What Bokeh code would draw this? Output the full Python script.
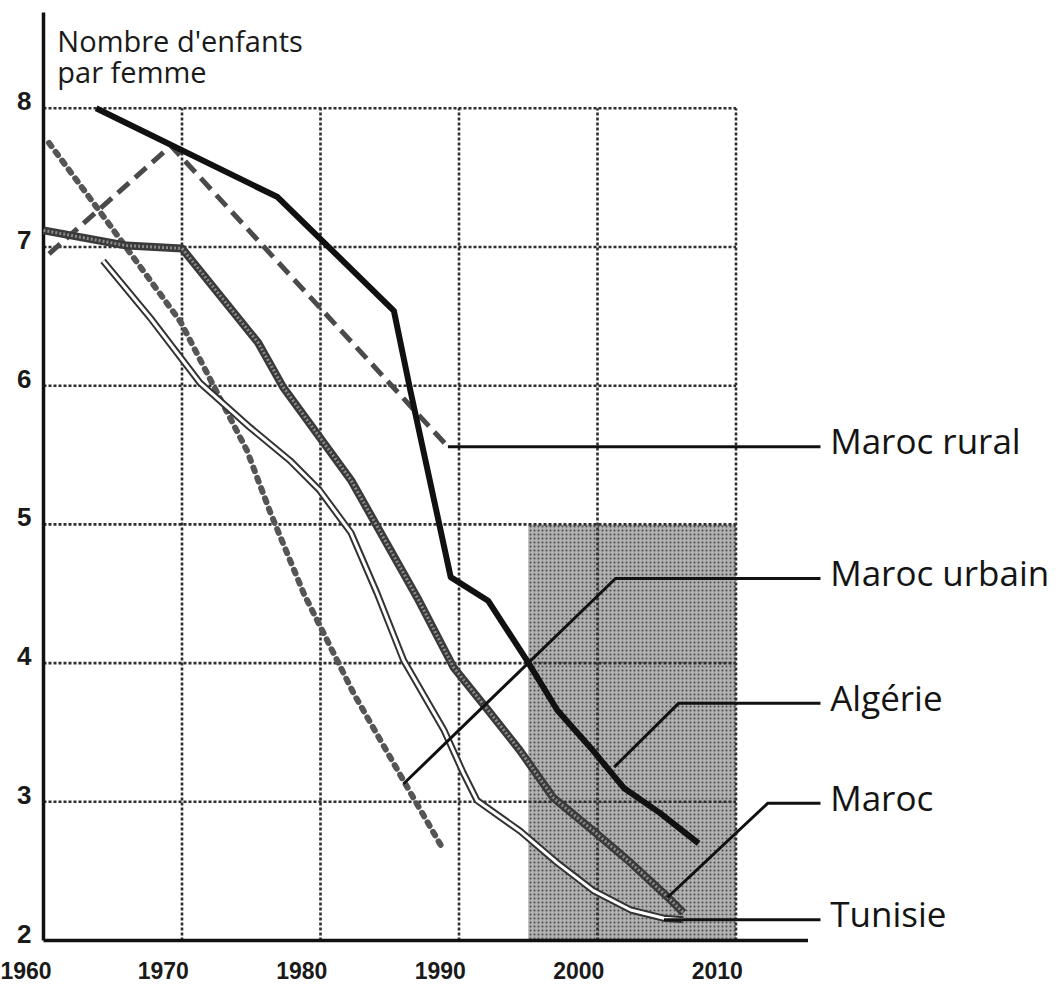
from bokeh.plotting import figure
from bokeh.models import Range1d, LinearAxis, FixedTicker
from bokeh.embed import file_html
from bokeh.resources import INLINE
from bokeh.core.properties import value

# ---------------- data ----------------
x_ticks = [1960, 1970, 1980, 1990, 2000, 2010]
y_ticks = [2, 3, 4, 5, 6, 7, 8]
y_tick_labels = [str(v) for v in y_ticks]
y_title = "Nombre d'enfants\npar femme"

series_names = ["Maroc rural", "Maroc urbain", "Algérie", "Maroc", "Tunisie"]

algerie_years = [1963.8, 1976.9, 1985.3, 1986.5, 1989.4, 1992.1, 1994.9, 1997.1, 1999.5, 2001.9, 2004.5, 2007.3]
algerie_vals = [8.0, 7.36, 6.54, 5.96, 4.62, 4.45, 4.02, 3.66, 3.39, 3.10, 2.92, 2.70]

rural_years = [1960.4, 1969.2, 1989.2]
rural_vals = [6.95, 7.73, 5.56]

urbain_years = [1960.4, 1964.7, 1969.9, 1974.7, 1976.4, 1978.8, 1982.4, 1986.7, 1988.9]
urbain_vals = [7.75, 7.17, 6.46, 5.53, 5.08, 4.50, 3.78, 3.03, 2.65]

maroc_years = [1960, 1966, 1970, 1975.5, 1977.3, 1982.2, 1987.0, 1989.6, 1992.1, 1994.4,
               1996.8, 1999.7, 2002.4, 2005.1, 2006.2]
maroc_vals = [7.12, 7.01, 6.99, 6.31, 5.99, 5.32, 4.47, 3.97, 3.66, 3.37,
              3.03, 2.79, 2.56, 2.31, 2.20]

tunisie_years = [1964.3, 1967.7, 1971.3, 1974.9, 1977.8, 1979.9, 1982.2, 1984.1, 1986.0,
                 1988.9, 1990.3, 1991.3, 1994.4, 1997.1, 1999.7, 2002.4, 2004.8, 2006.2]
tunisie_vals = [6.90, 6.49, 6.02, 5.70, 5.46, 5.25, 4.94, 4.50, 4.02,
                3.52, 3.21, 3.01, 2.79, 2.56, 2.36, 2.22, 2.16, 2.15]

period_start, period_end, period_top = 1995, 2010, 5

# ---------------- layout of annotations ----------------
axis_top = 8.69          # top of the drawn vertical axis
axis_right = 2015.2      # right end of the drawn horizontal axis
leader_end = 2016.1
label_x = 2016.8
leaders_x = [
    [rural_years[-1], leader_end],
    [1986.0, 2001.3, leader_end],
    [2001.2, 2005.85, leader_end],
    [2005.05, 2012.3, leader_end],
    [2004.8, leader_end],
]
leaders_y = [
    [rural_vals[-1], rural_vals[-1]],
    [3.13, 4.61, 4.61],
    [3.25, 3.71, 3.71],
    [2.31, 2.99, 2.99],
    [2.15, 2.15],
]
label_y = [ly[-1] for ly in leaders_y]

# ---------------- figure ----------------
PXX = 13.85   # px per year
PXY = 138.7   # px per unit
W, H = 1059, 998
fw = W
x0 = 1960 - 43 / PXX
x1 = x0 + fw / PXX
fh = 948
y1 = 2 + 940 / PXY
y0 = y1 - fh / PXY

p = figure(frame_width=fw, frame_height=fh,
           min_border_left=0, min_border_right=0, min_border_top=0, min_border_bottom=H - fh,
           x_range=Range1d(x0, x1), y_range=Range1d(y0, y1),
           x_axis_location=None, y_axis_location=None,
           toolbar_location=None, output_backend="svg",
           outline_line_color=None, background_fill_color="white",
           border_fill_color="white")
p.grid.visible = False

# x tick labels (the original sets them just left of each grid line)
shift_x = 1.35
p.extra_x_ranges = {"lab": Range1d(x0 + shift_x, x1 + shift_x)}
xa = LinearAxis(x_range_name="lab", ticker=FixedTicker(ticks=x_ticks))
xa.axis_line_color = None
xa.major_tick_line_color = None
xa.minor_tick_line_color = None
xa.major_tick_in = 0
xa.major_tick_out = 0
xa.major_label_text_font = "Liberation Sans"
xa.major_label_text_font_style = "bold"
xa.major_label_text_font_size = "23px"
xa.major_label_text_color = "#1a1a1a"
xa.major_label_standoff = 13
p.add_layout(xa, "below")

# shaded period
p.quad(left=[period_start], right=[period_end], bottom=[y_ticks[0]], top=[period_top],
       fill_color="#b0b0b0", line_color=None,
       hatch_pattern="dot", hatch_color="#4a4a4a", hatch_scale=4, hatch_weight=1.6)

# dotted grid
grid_color = "#2e2e2e"
vx = x_ticks[1:]
p.segment(x0=vx, y0=[y_ticks[0]] * len(vx), x1=vx, y1=[y_ticks[-1]] * len(vx),
          line_color=grid_color, line_width=2.6, line_dash="3 2")
hy = y_ticks[1:]
p.segment(x0=[x_ticks[0]] * len(hy), y0=hy, x1=[x_ticks[-1]] * len(hy), y1=hy,
          line_color=grid_color, line_width=2.6, line_dash="3 2")

# axes lines
p.segment(x0=[x_ticks[0]], y0=[y_ticks[0]], x1=[x_ticks[0]], y1=[axis_top],
          line_color="#111111", line_width=3.5)
p.segment(x0=[x_ticks[0]], y0=[y_ticks[0]], x1=[axis_right], y1=[y_ticks[0]],
          line_color="#111111", line_width=3.5)

# y tick labels
p.text(x=[x_ticks[0]] * len(y_ticks), y=y_ticks, text=y_tick_labels,
       text_font=value("Liberation Sans"), text_font_style="bold", text_font_size="26px",
       text_color="#1a1a1a", text_align="right", text_baseline="middle",
       x_offset=-12, y_offset=-7)

# series
p.line(urbain_years, urbain_vals, line_color="#555555", line_width=6, line_dash="4 7",
       line_cap="round")
p.line(rural_years, rural_vals, line_color="#4a4a4a", line_width=5, line_dash="15 8")
p.line(maroc_years, maroc_vals, line_color="#3a3a3a", line_width=8, line_join="round")
p.line(maroc_years, maroc_vals, line_color="#8a8a8a", line_width=3, line_dash="2 2",
       line_join="round")
p.line(tunisie_years, tunisie_vals, line_color="#333333", line_width=7, line_join="round")
p.line(tunisie_years, tunisie_vals, line_color="white", line_width=3, line_join="round")
p.line(algerie_years, algerie_vals, line_color="#111111", line_width=6, line_join="round")

# leaders and labels
p.multi_line(xs=leaders_x, ys=leaders_y, line_color="#111111", line_width=3)
p.text(x=[label_x] * len(series_names), y=label_y, text=series_names,
       text_font=value("Open Sans"), text_font_size="35px", text_color="#141414",
       text_baseline="middle", text_align="left", y_offset=-6)

# title of the y axis
p.text(x=[1961.0], y=[8.627], text=[y_title], text_font=value("Open Sans"),
       text_font_size="29px", text_color="#1a1a1a", text_baseline="top",
       text_line_height=0.78)

open("out.html", "w").write(file_html(p, INLINE))
